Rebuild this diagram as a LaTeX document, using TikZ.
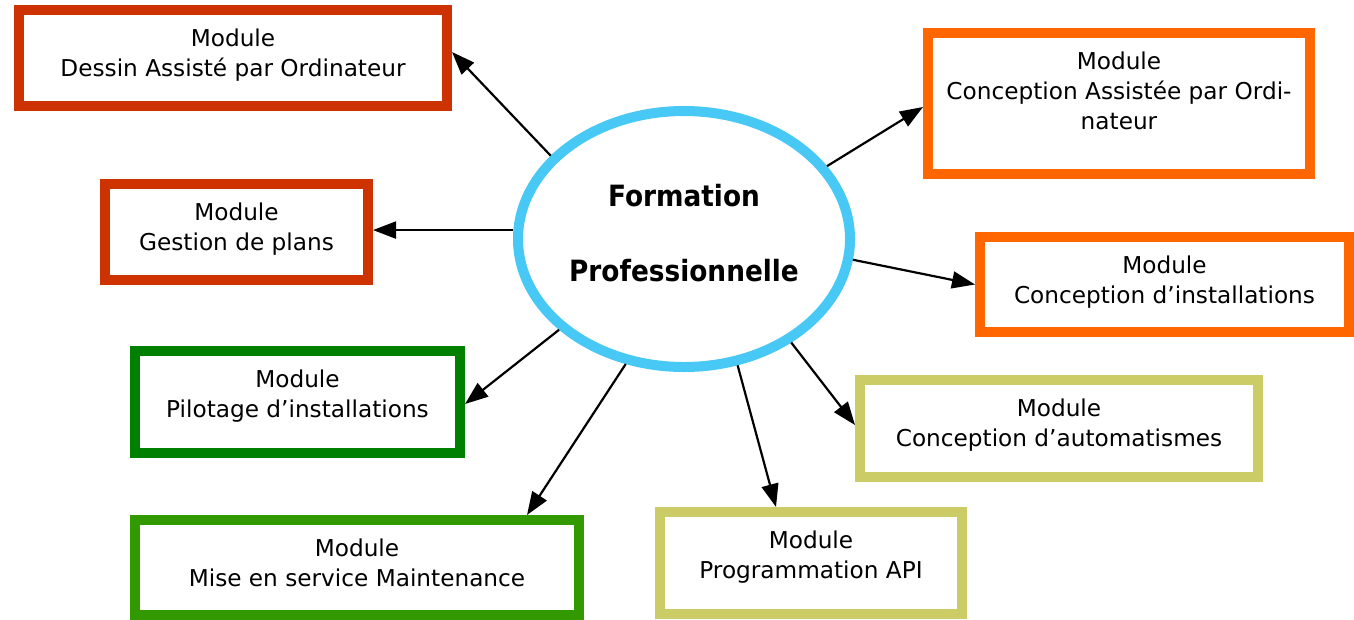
\documentclass[tikz,border=0pt]{standalone}
\usepackage{fontspec}
\setmainfont{DejaVu Sans}
\newfontfamily\condfont{DejaVu Sans Condensed}
\usetikzlibrary{shapes.geometric,arrows.meta,calc}
\definecolor{cRed}{HTML}{CC3300}
\definecolor{cOrange}{HTML}{FF6600}
\definecolor{cDkGreen}{HTML}{008000}
\definecolor{cGreen}{HTML}{339900}
\definecolor{cOlive}{HTML}{CCCC66}
\definecolor{cSky}{HTML}{48C8F4}
\begin{document}
\begin{tikzpicture}[x=1pt,y=-1pt,
  modbox/.style={draw=#1, line width=10pt, rectangle, inner sep=0pt, fill=white},
  lbl/.style={anchor=north, inner sep=0pt, align=center, font=\fontsize{23.2}{30}\selectfont},
  title/.style={anchor=north, inner sep=0pt, align=center, font=\condfont\bfseries\fontsize{29.3}{36}\selectfont},
  arr/.style={line width=2.2pt, -{Triangle[length=23pt,width=17pt]}},
  ring/.style={draw=cSky, line width=10pt, ellipse, inner sep=0pt, fill=white}
]
\fill[white] (0,0) rectangle (1354,619);
\useasboundingbox (0,0) rectangle (1354,619);

% module boxes
\node[modbox=cRed, minimum width=428pt, minimum height=96pt] (dao) at (233,58) {};
\node[modbox=cRed, minimum width=263pt, minimum height=96pt] (gest) at (236.5,232) {};
\node[modbox=cDkGreen, minimum width=325pt, minimum height=102pt] (pil) at (297.5,402) {};
\node[modbox=cGreen, minimum width=444pt, minimum height=95pt] (mise) at (357,567.5) {};
\node[modbox=cOlive, minimum width=302pt, minimum height=102pt] (api) at (811,563) {};
\node[modbox=cOlive, minimum width=398pt, minimum height=97pt] (auto) at (1059,428.5) {};
\node[modbox=cOrange, minimum width=369pt, minimum height=95pt] (inst) at (1164.5,284.5) {};
\node[modbox=cOrange, minimum width=382pt, minimum height=141pt] (cao) at (1119,103.5) {};

% labels
\node[lbl] (daoT) at ([yshift=-23.5pt]dao.north) {Module\\Dessin Assisté par Ordinateur};
\node[lbl] (gestT) at ([yshift=-23.5pt]gest.north) {Module\\Gestion de plans};
\node[lbl] (pilT) at ([yshift=-23.5pt]pil.north) {Module\\Pilotage d’installations};
\node[lbl] (miseT) at ([yshift=-23.5pt]mise.north) {Module\\Mise en service Maintenance};
\node[lbl] (apiT) at ([yshift=-23.5pt]api.north) {Module\\Programmation API};
\node[lbl] (autoT) at ([yshift=-23.5pt]auto.north) {Module\\Conception d’automatismes};
\node[lbl] (instT) at ([yshift=-23.5pt]inst.north) {Module\\Conception d’installations};
\node[lbl] (caoT) at ([yshift=-23.5pt]cao.north) {Module\\Conception Assistée par Ordi-\\nateur};

% central ellipse
\node[ring, minimum width=332pt, minimum height=256pt] (ell) at (684,239) {};
\node[title] (ttl) at (684,184) {Formation\\[39pt]Professionnelle};

% connectors
\draw[arr] (ell.148) -- ([yshift=6pt]dao.east);
\draw[arr] (ell.27) -- ([yshift=-3.5pt]cao.west);
\draw[arr] (ell.-7) -- (inst.west);
\draw[arr] (ell.-44) -- ([yshift=3.5pt]auto.west);
\draw[arr] (ell.-67) -- ([xshift=-35pt]api.north);
\draw[arr] (ell.-115) -- ([xshift=170pt]mise.north);
\draw[arr] (ell.-144.5) -- ([yshift=-2pt]pil.east);
\draw[arr] (ell.177.5) -- (ell.177.5 -| gest.east);
\end{tikzpicture}
\end{document}
